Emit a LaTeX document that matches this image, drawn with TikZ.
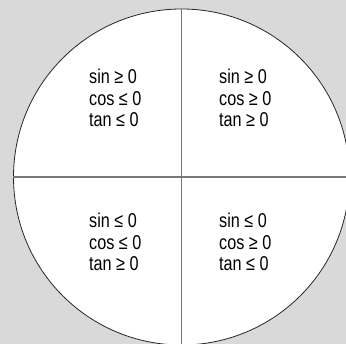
\documentclass[tikz,border=0pt]{standalone}
\usepackage{fontspec}
\setmainfont{Liberation Sans}[FakeStretch=0.81]
\definecolor{bggray}{RGB}{217,217,217}
\definecolor{axisgray}{RGB}{120,120,120}
\begin{document}
\begin{tikzpicture}[x=1pt,y=-1pt,
  quad/.style={anchor=base west,align=left,inner sep=0pt,font=\fontsize{20}{21.5}\selectfont},
  axis/.style={draw=axisgray,line width=1.2pt}]
\useasboundingbox (0,0) rectangle (346,344);
\clip (0,0) rectangle (346,344);
\fill[bggray] (0,0) rectangle (346,344);
\node[circle,draw=black!85,fill=white,line width=0.8pt,minimum size=336pt,inner sep=0pt] (c) at (181.5,177) {};
\coordinate (bot) at (181.5,346);
\coordinate (rgt) at (348,177);
\draw[axis] (c.north) -- (bot);
\draw[axis] (c.west) -- (rgt);
\node[quad] (q2) at (89,127) {sin ≥ 0\\cos ≤ 0\\tan ≤ 0};
\node[quad] (q1) at (219,127) {sin ≥ 0\\cos ≥ 0\\tan ≥ 0};
\node[quad] (q3) at (89,271) {sin ≤ 0\\cos ≤ 0\\tan ≥ 0};
\node[quad] (q4) at (219,271) {sin ≤ 0\\cos ≥ 0\\tan ≤ 0};
\end{tikzpicture}
\end{document}
